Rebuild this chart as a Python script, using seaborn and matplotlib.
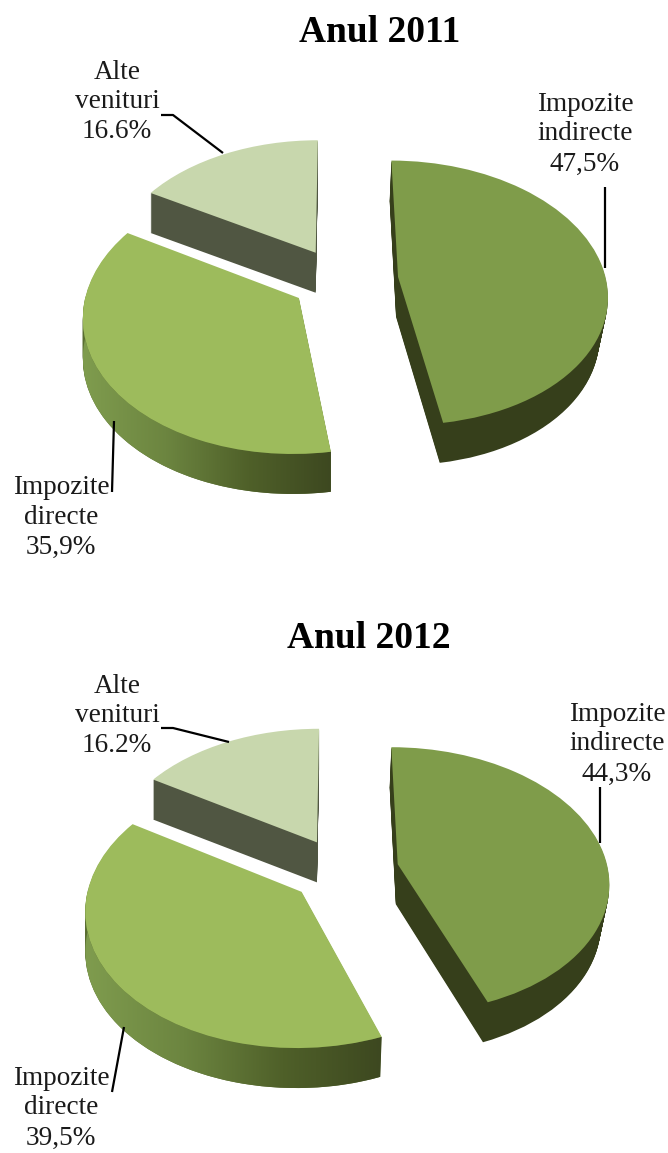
import matplotlib
matplotlib.use("Agg")
import matplotlib.pyplot as plt
import numpy as np
import seaborn as sns
from matplotlib.patches import Polygon, Wedge
from matplotlib.transforms import Transform

""" Data """
categories = ["Impozite\nindirecte", "Impozite\ndirecte", "Alte\nvenituri"]
shares_2011 = [47.5, 35.9, 16.6]
shares_2012 = [44.3, 39.5, 16.2]
share_text_2011 = ["47,5%", "35,9%", "16.6%"]
share_text_2012 = ["44,3%", "39,5%", "16.2%"]
titles = ["Anul 2011", "Anul 2012"]

""" Parameter settings """
W, H = 668, 1153
top_colors = ["#7F9C4A", "#9DBB5C", "#C8D7AD"]
wall_colors = ["#363F1B", "#5A6E32", "#505642"]
depth = 40
sns.set_theme(style="white")
plt.rcParams["font.family"] = ["Liberation Serif", "DejaVu Serif"]
side_cmap = sns.blend_palette(["#7F9C4E", "#6C8540", "#4F6029", "#3D4820"], as_cmap=True)


class Tilt(Transform):
    """Turns flat pie coordinates into a tilted view with some perspective, in pixels."""

    input_dims = 2
    output_dims = 2
    has_inverse = False

    def __init__(self, cx, cy, rx, ry, k=0.12, drop=0):
        super().__init__()
        self.cx, self.cy, self.rx, self.ry, self.k, self.drop = cx, cy, rx, ry, k, drop

    def transform_non_affine(self, values):
        values = np.asarray(values, dtype=float)
        w = 1 + self.k * values[:, 1]
        # the far right of the body narrows a little towards its base
        shrink = np.where(values[:, 0] > 0, 1 - 0.0008 * self.drop, 1)
        x = self.cx + self.rx * shrink * values[:, 0] / w
        y = self.cy + self.drop - self.ry * values[:, 1] / w
        return np.column_stack([x, y])


def tilted_pie(ax, shares, explode, nudges, scales, cx, cy, rx, ry):
    wedges, _ = ax.pie(
        shares, explode=explode, colors=top_colors, startangle=90, counterclock=False
    )
    for i, wedge in enumerate(wedges):
        view = (cx + nudges[i][0], cy + nudges[i][1], rx * scales[i], ry * scales[i])
        base = Tilt(*view)
        wedge.set(transform=base + ax.transData, zorder=5, linewidth=0)
        # extruded body, stacked from the bottom up
        for drop in range(depth, 0, -1):
            layer = Wedge(wedge.center, wedge.r, wedge.theta1, wedge.theta2, color=wall_colors[i], lw=0, zorder=2)
            ax.add_patch(layer)
            layer.set_transform(Tilt(*view, drop=drop) + ax.transData)

        if i != 1:
            continue
        # shaded outer rim of the middle slice
        angles = np.radians(np.linspace(wedge.theta1, wedge.theta2, 200))
        angles = angles[np.sin(angles) <= 0.02]
        rim = np.column_stack(
            [wedge.center[0] + wedge.r * np.cos(angles), wedge.center[1] + wedge.r * np.sin(angles)]
        )
        upper = base.transform_non_affine(rim)
        lower = Tilt(*view, drop=depth).transform_non_affine(rim)
        outline = np.vstack([upper, lower[::-1]])
        shade = Polygon(outline, closed=True, transform=ax.transData, facecolor="none", lw=0)
        ax.add_patch(shade)
        image = ax.imshow(
            np.linspace(0, 1, 256)[None, :],
            cmap=side_cmap,
            aspect="auto",
            zorder=3,
            extent=(outline[:, 0].min(), outline[:, 0].max(), outline[:, 1].max(), outline[:, 1].min()),
        )
        image.set_clip_path(shade)


def add_label(ax, x, y, category, share_text):
    ax.text(x, y, f"{category}\n{share_text}", ha="center", va="center", fontsize=19.6, color="#1a1a1a", linespacing=1.26)


def leader(ax, xs, ys):
    ax.plot(xs, ys, color="black", lw=1.6, solid_capstyle="butt", zorder=6)


fig = plt.figure(figsize=(W / 100, H / 100), dpi=100)
ax = fig.add_axes([0, 0, 1, 1])

tilted_pie(ax, shares_2011, [0.30, 0.25, 0.2], [(1, 5), (8, 4), (1, 0)], [1.0, 1.01, 1.0], 335, 275, 208, 131)
tilted_pie(ax, shares_2012, [0.29, 0.22, 0.2], [(1, 3), (1, 5), (0, -3)], [1.012, 1.012, 1.01], 337, 868, 208, 131)

ax.set_xlim(0, W)
ax.set_ylim(H, 0)
ax.set_aspect("auto")
ax.axis("off")

ax.text(380, 33, titles[0], ha="center", va="center", fontsize=27, fontweight="bold", color="black")
ax.text(369, 639, titles[1], ha="center", va="center", fontsize=27, fontweight="bold", color="black")

add_label(ax, 585, 134, categories[0], share_text_2011[0])
add_label(ax, 61, 517, categories[1], share_text_2011[1])
add_label(ax, 117, 102, categories[2], share_text_2011[2])
add_label(ax, 617, 744, categories[0], share_text_2012[0])
add_label(ax, 61, 1108, categories[1], share_text_2012[1])
add_label(ax, 117, 716, categories[2], share_text_2012[2])

leader(ax, [605, 605], [187, 268])
leader(ax, [114, 112], [421, 492])
leader(ax, [161, 173, 223], [115, 115, 153])
leader(ax, [600, 600], [787, 843])
leader(ax, [124, 112], [1027, 1092])
leader(ax, [161, 173, 229], [728, 728, 742])

fig.savefig("out.png", dpi=100)
